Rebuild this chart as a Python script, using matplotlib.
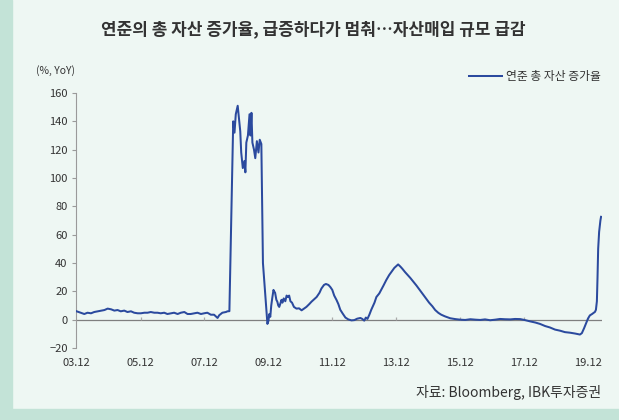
import matplotlib
matplotlib.use("Agg")
import matplotlib.pyplot as plt
from matplotlib.patches import Rectangle

plt.rcParams['font.family'] = ['Noto Sans CJK KR', 'DejaVu Sans']
plt.rcParams['axes.unicode_minus'] = True

title = "연준의 총 자산 증가율, 급증하다가 멈춰…자산매입 규모 급감"
legend_label = "연준 총 자산 증가율"
unit_label = "(%, YoY)"
source = "자료: Bloomberg, IBK투자증권"

# fractional years (month-end Dec 2003 = 2003.92)
years = [
    2003.92, 2004.05, 2004.16, 2004.26, 2004.37, 2004.47, 2004.58, 2004.68, 2004.79, 2004.89,
    2005.00, 2005.10, 2005.20, 2005.30, 2005.41, 2005.51, 2005.62, 2005.72, 2005.83, 2005.93,
    2006.04, 2006.14, 2006.24, 2006.35, 2006.45, 2006.55, 2006.66, 2006.76, 2006.87, 2006.97,
    2007.08, 2007.18, 2007.29, 2007.39, 2007.49, 2007.60, 2007.70, 2007.81, 2007.91, 2008.01,
    2008.12, 2008.22, 2008.33, 2008.38, 2008.48, 2008.59, 2008.64, 2008.70, 2008.76, 2008.82,
    2008.86, 2008.90, 2008.96, 2009.01, 2009.04, 2009.07, 2009.12, 2009.17, 2009.20, 2009.23,
    2009.28, 2009.33, 2009.36, 2009.39, 2009.42, 2009.47, 2009.51, 2009.56, 2009.61, 2009.65,
    2009.70, 2009.75, 2009.81, 2009.86, 2009.89, 2009.92, 2009.95, 2009.98, 2010.01, 2010.04,
    2010.08, 2010.10, 2010.13, 2010.17, 2010.20, 2010.23, 2010.26, 2010.29, 2010.33, 2010.36,
    2010.40, 2010.45, 2010.49, 2010.53, 2010.57, 2010.61, 2010.66, 2010.72, 2010.80, 2010.88,
    2010.96, 2011.05, 2011.11, 2011.20, 2011.27, 2011.36, 2011.43, 2011.52, 2011.58, 2011.66,
    2011.72, 2011.80, 2011.86, 2011.92, 2011.98, 2012.05, 2012.11, 2012.17, 2012.24, 2012.33,
    2012.42, 2012.52, 2012.61, 2012.70, 2012.80, 2012.86, 2012.92, 2012.97, 2013.02, 2013.08,
    2013.14, 2013.24, 2013.30, 2013.39, 2013.45, 2013.52, 2013.61, 2013.70, 2013.77, 2013.86,
    2013.92, 2013.98, 2014.05, 2014.11, 2014.20, 2014.30, 2014.36, 2014.45, 2014.55, 2014.67,
    2014.77, 2014.86, 2014.95, 2015.05, 2015.14, 2015.24, 2015.33, 2015.45, 2015.61, 2015.77,
    2015.92, 2016.08, 2016.24, 2016.40, 2016.55, 2016.70, 2016.86, 2017.02, 2017.17, 2017.33,
    2017.49, 2017.64, 2017.80, 2017.95, 2018.11, 2018.27, 2018.42, 2018.58, 2018.73, 2018.89,
    2019.05, 2019.20, 2019.36, 2019.52, 2019.67, 2019.73, 2019.80, 2019.86, 2019.92, 2019.98,
    2020.05, 2020.11, 2020.14, 2020.17, 2020.20, 2020.22, 2020.24, 2020.27, 2020.31, 2020.33,
]
growth = [
    5.9, 4.9, 4.0, 4.9, 4.5, 5.4, 5.9, 6.4, 6.8, 7.8,
    7.3, 6.4, 6.8, 5.9, 6.4, 5.4, 5.9, 4.9, 4.5, 4.5,
    4.9, 4.9, 5.4, 4.9, 4.9, 4.5, 4.9, 4.0, 4.5, 4.9,
    4.0, 4.9, 5.4, 4.0, 4.0, 4.5, 4.9, 4.0, 4.5, 4.9,
    3.5, 3.5, 1.2, 3.1, 4.9, 5.4, 5.9, 6.0, 74.0, 140.0,
    132.0, 145.0, 151.0, 140.0, 133.0, 118.0, 107.0, 112.0, 104.0, 125.0,
    130.0, 145.0, 130.0, 146.0, 125.0, 120.0, 114.0, 126.0, 118.0, 127.0,
    124.0, 40.0, 22.0, 6.0, -3.0, -1.0, 4.0, 2.0, 10.0, 15.0,
    21.0, 20.0, 19.0, 14.0, 12.7, 10.0, 9.0, 11.0, 14.0, 12.0,
    15.0, 13.0, 17.0, 16.0, 17.0, 13.0, 12.0, 9.0, 7.8, 8.0,
    6.6, 8.0, 9.0, 11.0, 12.7, 14.5, 16.0, 19.0, 22.0, 24.5,
    25.2, 24.5, 23.0, 21.0, 17.0, 14.0, 11.0, 7.0, 4.5, 1.5,
    0.2, -0.5, -0.3, 0.7, 1.2, 0.5, -0.7, 1.5, 0.5, 3.5,
    7.0, 12.0, 16.0, 18.5, 21.0, 24.0, 28.0, 31.5, 33.7, 36.5,
    37.7, 39.0, 37.5, 36.0, 33.5, 31.0, 29.5, 27.0, 24.2, 20.5,
    17.5, 14.8, 12.0, 9.5, 6.8, 4.8, 3.5, 2.3, 1.0, 0.4,
    0.0, -0.2, 0.3, 0.0, -0.2, 0.2, -0.4, 0.0, 0.5, 0.3,
    0.2, 0.5, 0.4, -0.3, -1.2, -2.0, -3.0, -4.5, -5.5, -7.0,
    -7.8, -8.8, -9.2, -9.8, -10.5, -9.5, -6.0, -2.6, 0.7, 3.0,
    4.0, 5.0, 5.5, 7.0, 13.0, 30.0, 50.0, 62.0, 70.0, 72.6,
]

tick_years = [2003.92, 2005.92, 2007.92, 2009.92, 2011.92, 2013.92, 2015.92, 2017.92, 2019.92]
tick_labels = ["03.12", "05.12", "07.12", "09.12", "11.12", "13.12", "15.12", "17.12", "19.12"]
y_ticks = [-20, 0, 20, 40, 60, 80, 100, 120, 140, 160]

W, H = 619, 420
bg = "#EEF7F3"
stripe = "#C3E3D7"
line_color = "#2B4A9E"
text_color = "#333333"

fig = plt.figure(figsize=(W / 100, H / 100), dpi=100)
fig.patch.set_facecolor(bg)
fig.patches.append(Rectangle((0, 0), 12 / W, 1, transform=fig.transFigure, color=stripe, zorder=0))
fig.patches.append(Rectangle((0, 0), 1, 11 / H, transform=fig.transFigure, color=stripe, zorder=0))

ax = fig.add_axes([76 / W, (H - 348) / H, (602 - 76) / W, (348 - 93) / H])
ax.set_facecolor(bg)
ax.patch.set_alpha(0)

ax.plot(years, growth, color=line_color, lw=1.45, label=legend_label, zorder=3, solid_joinstyle='round')
ax.axhline(0, color="#7F7F7F", lw=0.9, zorder=2)
ax.vlines(tick_years[1:], 0, 2.2, color="#AAAAAA", lw=0.9, zorder=2)

ax.set_xlim(2003.90, 2020.36)
ax.set_ylim(-20, 160)
ax.set_yticks(y_ticks)
ax.set_xticks(tick_years)
ax.set_xticklabels(tick_labels)

for s in ["top", "right", "bottom"]:
    ax.spines[s].set_visible(False)
ax.spines["left"].set_color("#9A9A9A")
ax.spines["left"].set_linewidth(0.8)

ax.tick_params(axis="y", direction="out", length=3, width=0.8, color="#9A9A9A",
               labelsize=8, labelcolor=text_color, pad=3)
ax.tick_params(axis="x", length=0, labelsize=8, labelcolor=text_color, pad=7)

fig.text(313 / W, 1 - 29 / H, title, ha="center", va="center", fontsize=12.2,
         fontweight="bold", color=text_color)
fig.text(55 / W, 1 - 71 / H, unit_label, ha="center", va="center", fontsize=7.5, color=text_color)
fig.text(601 / W, 1 - 393 / H, source, ha="right", va="center", fontsize=10, color=text_color)

leg = ax.legend(loc="upper right", bbox_to_anchor=(606 / W, 1 - 65 / H), bbox_transform=fig.transFigure,
                frameon=False, fontsize=8.5, handlelength=2.8, handletextpad=0.4, borderaxespad=0)
for t in leg.get_texts():
    t.set_color(text_color)

fig.savefig("out.png", dpi=100, facecolor=bg)
